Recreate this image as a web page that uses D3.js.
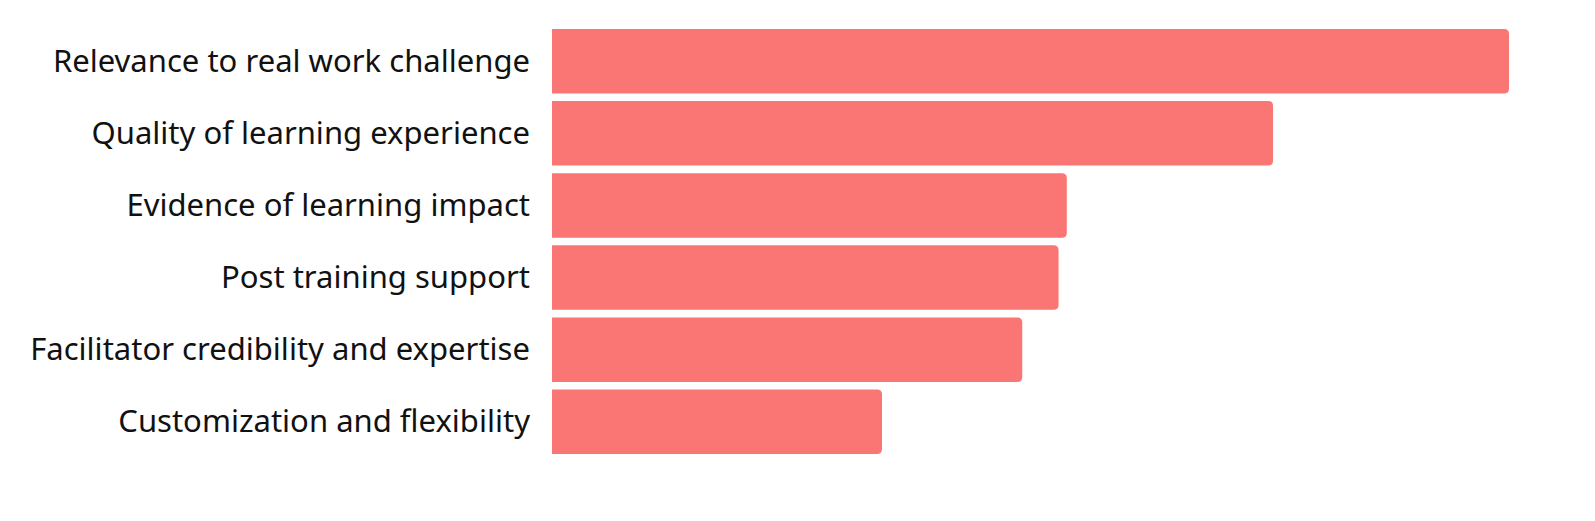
<!DOCTYPE html>
<html>
<head>
<meta charset="utf-8">
<script src="https://cdn.jsdelivr.net/npm/d3@7"></script>
<style>
    html, body { margin: 0; padding: 0; background: #fff; }
    svg { display: block; }
</style>
</head>
<body>
<div id="chart"></div>
<script>
    const categories = [
        'Relevance to real work challenge',
        'Quality of learning experience',
        'Evidence of learning impact',
        'Post training support',
        'Facilitator credibility and expertise',
        'Customization and flexibility',
    ];
    const values = [29, 21.85, 15.6, 15.35, 14.25, 10];

    const width = 1595;
    const height = 521;
    const margin = { top: 29, right: 86, bottom: 67, left: 552 };

    const x = d3.scaleLinear()
        .domain([0, d3.max(values)])
        .range([margin.left, width - margin.right]);

    const y = d3.scaleBand()
        .domain(categories)
        .range([margin.top, height - margin.bottom])
        .paddingInner(0.105);

    const svg = d3.select('#chart').append('svg')
        .attr('width', width)
        .attr('height', height);

    const data = categories.map((c, i) => ({ name: c, value: values[i] }));

    // bar with square left end and rounded right corners
    function barPath(d) {
        const x0 = x(0);
        const x1 = x(d.value);
        const y0 = y(d.name);
        const h = y.bandwidth();
        const r = 5;
        return `M${x0},${y0}H${x1 - r}Q${x1},${y0} ${x1},${y0 + r}`
            + `V${y0 + h - r}Q${x1},${y0 + h} ${x1 - r},${y0 + h}H${x0}Z`;
    }

    svg.append('g')
        .selectAll('path')
        .data(data)
        .enter()
        .append('path')
        .attr('d', barPath)
        .attr('fill', '#f97675');

    const labels = svg.append('g')
        .attr('font-family', '"Noto Sans", sans-serif')
        .attr('font-size', 30)
        .attr('fill', '#111')
        .selectAll('text')
        .data(data)
        .enter()
        .append('text')
        .attr('x', 530)
        .attr('y', d => y(d.name) + y.bandwidth() / 2 + 10.5)
        .attr('text-anchor', 'end')
        .text(d => d.name);

    // fit font so the longest label spans the same width as the reference
    const longest = d3.max(labels.nodes(), n => n.getComputedTextLength());
    const size = 30 * 500 / longest;
    svg.selectAll('text').attr('font-size', size);
</script>
</body>
</html>
